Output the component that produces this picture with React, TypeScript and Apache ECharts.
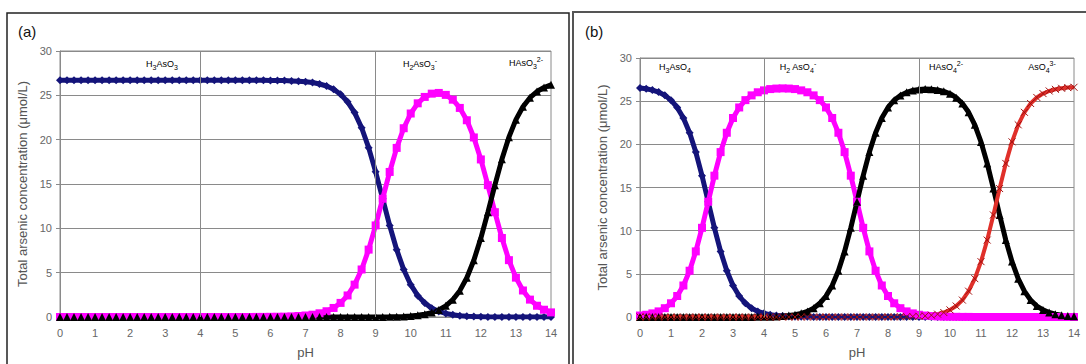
import React, { useEffect, useRef } from "react";
import * as echarts from "echarts";

// Sampled pH values shared by all curves (step 0.2)
const pH = [
  0, 0.2, 0.4, 0.6, 0.8, 1, 1.2, 1.4, 1.6, 1.8,
  2, 2.2, 2.4, 2.6, 2.8, 3, 3.2, 3.4, 3.6, 3.8,
  4, 4.2, 4.4, 4.6, 4.8, 5, 5.2, 5.4, 5.6, 5.8,
  6, 6.2, 6.4, 6.6, 6.8, 7, 7.2, 7.4, 7.6, 7.8,
  8, 8.2, 8.4, 8.6, 8.8, 9, 9.2, 9.4, 9.6, 9.8,
  10, 10.2, 10.4, 10.6, 10.8, 11, 11.2, 11.4, 11.6, 11.8,
  12, 12.2, 12.4, 12.6, 12.8, 13, 13.2, 13.4, 13.6, 13.8,
  14,
];

// (a) As(III) species, µmol/L
const h3aso3 = [
  26.7, 26.7, 26.7, 26.7, 26.7, 26.7, 26.7, 26.7, 26.7, 26.7,
  26.7, 26.7, 26.7, 26.7, 26.7, 26.7, 26.7, 26.7, 26.7, 26.7,
  26.7, 26.7, 26.7, 26.7, 26.7, 26.7, 26.7, 26.7, 26.7, 26.69,
  26.68, 26.67, 26.66, 26.63, 26.59, 26.53, 26.44, 26.28, 26.05, 25.68,
  25.12, 24.27, 23.05, 21.34, 19.1, 16.37, 13.34, 10.32, 7.59, 5.35,
  3.64, 2.41, 1.57, 1.0, 0.63, 0.4, 0.25, 0.15, 0.09, 0.05,
  0.03, 0.01, 0, 0, 0, 0, 0, 0, 0, 0,
  0,
];
const h2aso3 = [
  0, 0, 0, 0, 0, 0, 0, 0, 0, 0,
  0, 0, 0, 0, 0, 0, 0, 0, 0, 0,
  0, 0, 0, 0, 0, 0, 0, 0, 0.01, 0.01,
  0.02, 0.03, 0.04, 0.07, 0.11, 0.17, 0.26, 0.42, 0.65, 1.02,
  1.59, 2.43, 3.65, 5.36, 7.6, 10.33, 13.34, 16.36, 19.07, 21.29,
  22.95, 24.1, 24.82, 25.19, 25.27, 25.05, 24.51, 23.58, 22.19, 20.25,
  17.77, 14.87, 11.82, 8.91, 6.41, 4.44, 2.99, 1.96, 1.27, 0.82,
  0.52,
];
const haso3 = [
  0, 0, 0, 0, 0, 0, 0, 0, 0, 0,
  0, 0, 0, 0, 0, 0, 0, 0, 0, 0,
  0, 0, 0, 0, 0, 0, 0, 0, 0, 0,
  0, 0, 0, 0, 0, 0, 0, 0, 0, 0,
  0, 0, 0, 0, 0, 0, 0.01, 0.02, 0.04, 0.07,
  0.11, 0.19, 0.31, 0.5, 0.8, 1.26, 1.95, 2.97, 4.43, 6.4,
  8.9, 11.81, 14.87, 17.78, 20.28, 22.26, 23.71, 24.73, 25.43, 25.88,
  26.18,
];

// (b) As(V) species, µmol/L
const h3aso4 = [
  26.53, 26.44, 26.28, 26.05, 25.68, 25.12, 24.27, 23.05, 21.34, 19.1,
  16.37, 13.35, 10.33, 7.6, 5.36, 3.65, 2.43, 1.59, 1.02, 0.65,
  0.42, 0.26, 0.17, 0.11, 0.07, 0.04, 0.03, 0.02, 0.01, 0.01,
  0, 0, 0, 0, 0, 0, 0, 0, 0, 0,
  0, 0, 0, 0, 0, 0, 0, 0, 0, 0,
  0, 0, 0, 0, 0, 0, 0, 0, 0, 0,
  0, 0, 0, 0, 0, 0, 0, 0, 0, 0,
  0,
];
const h2aso4 = [
  0.17, 0.26, 0.42, 0.65, 1.02, 1.59, 2.43, 3.65, 5.36, 7.6,
  10.33, 13.35, 16.37, 19.1, 21.34, 23.05, 24.27, 25.12, 25.67, 26.03,
  26.25, 26.4, 26.46, 26.48, 26.46, 26.4, 26.25, 26.03, 25.67, 25.12,
  24.27, 23.05, 21.34, 19.1, 16.37, 13.35, 10.33, 7.6, 5.36, 3.65,
  2.43, 1.59, 1.02, 0.65, 0.42, 0.26, 0.17, 0.11, 0.07, 0.04,
  0.03, 0.02, 0.01, 0.01, 0, 0, 0, 0, 0, 0,
  0, 0, 0, 0, 0, 0, 0, 0, 0, 0,
  0,
];
const haso4 = [
  0, 0, 0, 0, 0, 0, 0, 0, 0, 0,
  0, 0, 0, 0, 0, 0, 0, 0, 0.01, 0.02,
  0.03, 0.04, 0.07, 0.11, 0.17, 0.26, 0.42, 0.65, 1.02, 1.59,
  2.43, 3.65, 5.36, 7.6, 10.33, 13.35, 16.37, 19.1, 21.34, 23.05,
  24.27, 25.11, 25.66, 26.02, 26.24, 26.36, 26.4, 26.38, 26.3, 26.14,
  25.86, 25.41, 24.73, 23.71, 22.26, 20.28, 17.79, 14.88, 11.82, 8.91,
  6.42, 4.44, 2.99, 1.96, 1.27, 0.82, 0.52, 0.33, 0.21, 0.13,
  0.08,
];
const aso4 = [
  0, 0, 0, 0, 0, 0, 0, 0, 0, 0,
  0, 0, 0, 0, 0, 0, 0, 0, 0, 0,
  0, 0, 0, 0, 0, 0, 0, 0, 0, 0,
  0, 0, 0, 0, 0, 0, 0, 0, 0, 0,
  0.01, 0.01, 0.02, 0.03, 0.05, 0.08, 0.13, 0.21, 0.33, 0.52,
  0.82, 1.27, 1.96, 2.99, 4.44, 6.41, 8.91, 11.82, 14.88, 17.79,
  20.29, 22.26, 23.71, 24.73, 25.43, 25.88, 26.18, 26.37, 26.49, 26.57,
  26.61,
];

// Boundaries drawn as vertical lines on both plots
const boundaries = [4, 9];

const FONT = "Liberation Sans, Arial, sans-serif";
const NAVY = "#14147a";
const MAGENTA = "#ff00ff";
const BLACK = "#000000";
const RED = "#e0302a";
const GRID_COLOR = "#8a8a8a";

const pairs = (ys: number[]) => pH.map((x, i) => [x, ys[i]]);

function curve(
  name: string,
  ys: number[],
  color: string,
  symbol: string,
  size: number,
  idx: number,
  extra: any = {}
) {
  return {
    name,
    type: "line",
    xAxisIndex: idx,
    yAxisIndex: idx,
    data: pairs(ys),
    showSymbol: true,
    symbol,
    symbolSize: size,
    lineStyle: { color, width: 5 },
    itemStyle: { color },
    ...extra,
  };
}

function xAxisFor(idx: number) {
  return {
    type: "value",
    gridIndex: idx,
    min: 0,
    max: 14,
    interval: 1,
    name: "pH",
    nameLocation: "middle",
    nameGap: 29,
    nameTextStyle: { color: "#555", fontSize: 13, fontFamily: FONT },
    axisLine: { show: true, lineStyle: { color: GRID_COLOR } },
    axisTick: { show: false },
    axisLabel: { color: "#666", fontSize: 11, fontFamily: FONT, margin: 10 },
    splitLine: { show: false },
  };
}

function yAxisFor(idx: number) {
  return {
    type: "value",
    gridIndex: idx,
    min: 0,
    max: 30,
    interval: 5,
    name: "Total arsenic concentration (\u03bcmol/L)",
    nameLocation: "middle",
    nameGap: 31,
    nameTextStyle: { color: "#555", fontSize: 13, fontFamily: FONT },
    axisLine: { show: true, lineStyle: { color: GRID_COLOR } },
    axisTick: { show: true, length: 4, lineStyle: { color: GRID_COLOR } },
    axisLabel: { color: "#666", fontSize: 11, fontFamily: FONT, margin: 8 },
    splitLine: { show: true, lineStyle: { color: GRID_COLOR, width: 1 } },
  };
}

const boundaryLines = {
  silent: true,
  symbol: "none",
  label: { show: false },
  lineStyle: { color: GRID_COLOR, width: 1, type: "solid" },
  data: boundaries.map((b) => ({ xAxis: b })),
};

const rich = {
  b: { fontSize: 9, fontFamily: FONT, color: "#444", lineHeight: 14 },
  sub: { fontSize: 7, fontFamily: FONT, color: "#444", lineHeight: 14, verticalAlign: "bottom", padding: [4, 0, 0, 0] },
  sup: { fontSize: 7, fontFamily: FONT, color: "#444", lineHeight: 14, verticalAlign: "top", padding: [0, 0, 5, 0] },
};

function species(text: string, x: number, y: number) {
  return {
    type: "text",
    x,
    y,
    style: { text, rich, align: "center", verticalAlign: "middle" },
    silent: true,
  };
}

export default function App() {
  const ref = useRef<HTMLDivElement>(null);

  useEffect(() => {
    if (!ref.current) return;
    const chart = echarts.init(ref.current, null, { renderer: "svg" });
    const crossSymbol = "path://M0,0L10,10M10,0L0,10";
    chart.setOption({
      animation: false,
      backgroundColor: "#ffffff",
      grid: [
        { left: 60, top: 51, width: 491, height: 270, show: true, borderColor: GRID_COLOR, borderWidth: 1 },
        { left: 640, top: 58, width: 434, height: 264, show: true, borderColor: GRID_COLOR, borderWidth: 1 },
      ],
      xAxis: [xAxisFor(0), xAxisFor(1)],
      yAxis: [yAxisFor(0), yAxisFor(1)],
      series: [
        curve("H3AsO3", h3aso3, NAVY, "diamond", 8, 0, { markLine: boundaryLines }),
        curve("H2AsO3-", h2aso3, MAGENTA, "rect", 8, 0),
        curve("HAsO3 2-", haso3, BLACK, "triangle", 8, 0),
        curve("H3AsO4", h3aso4, NAVY, "diamond", 8, 1, { markLine: boundaryLines }),
        curve("H2AsO4-", h2aso4, MAGENTA, "rect", 8, 1),
        curve("HAsO4 2-", haso4, BLACK, "triangle", 8, 1),
        curve("AsO4 3-", aso4, RED, crossSymbol, 7, 1, {
          lineStyle: { color: RED, width: 4 },
          itemStyle: { color: RED, borderColor: "#a01010", borderWidth: 1 },
        }),
      ],
      graphic: [
        {
          type: "rect",
          shape: { x: 7, y: 13, width: 562, height: 380 },
          style: { fill: "none", stroke: "#222", lineWidth: 1.5 },
          silent: true,
        },
        {
          type: "rect",
          shape: { x: 573, y: 12, width: 540, height: 380 },
          style: { fill: "none", stroke: "#555", lineWidth: 2 },
          silent: true,
        },
        { type: "text", x: 18, y: 24, style: { text: "(a)", font: `15px ${FONT}`, fill: "#111" }, silent: true },
        { type: "text", x: 585, y: 24, style: { text: "(b)", font: `15px ${FONT}`, fill: "#111" }, silent: true },
        species("{b|H}{sub|3}{b|AsO}{sub|3}", 162, 64),
        species("{b|H}{sub|2}{b|AsO}{sub|3}{sup|-}", 420, 64),
        species("{b|HAsO}{sub|3}{sup|2-}", 526, 63),
        species("{b|H}{sub|3}{b|AsO}{sub|4}", 675, 67),
        species("{b|H}{sub|2}{b| AsO}{sub|4}{sup|-}", 798, 67),
        species("{b|HAsO}{sub|4}{sup|2-}", 946, 67),
        species("{b|AsO}{sub|4}{sup|3-}", 1042, 67),
      ],
    });
    return () => chart.dispose();
  }, []);

  return (
    <div
      ref={ref}
      style={{ position: "absolute", left: 0, top: 0, width: 1086, height: 364, background: "#fff" }}
    />
  );
}
